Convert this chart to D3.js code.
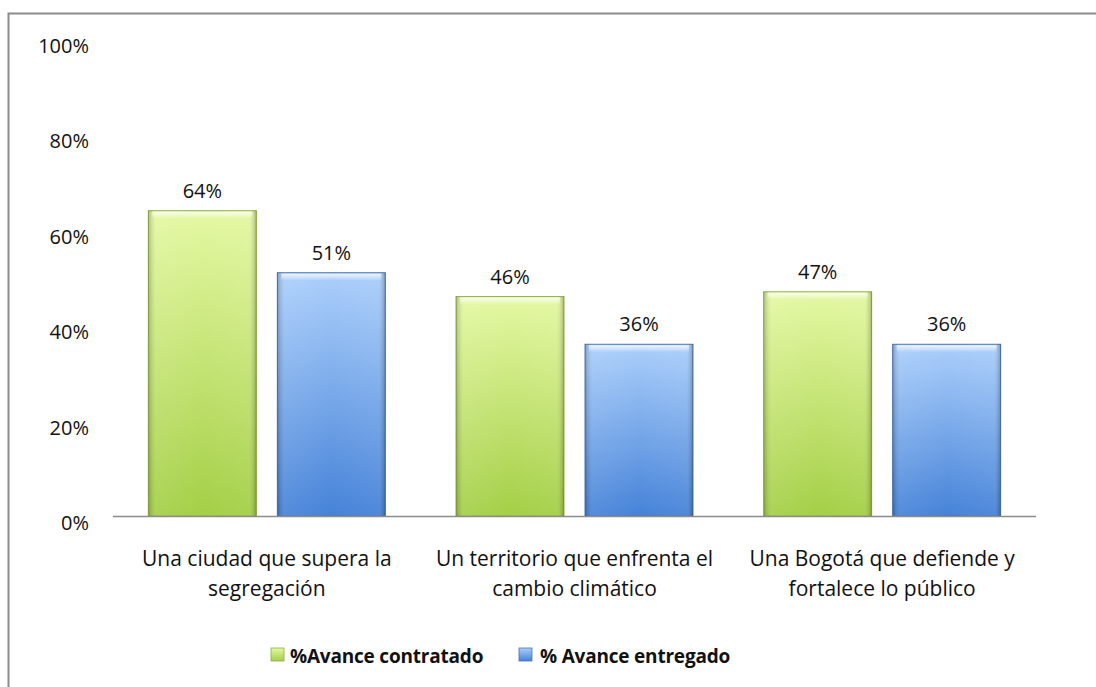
<html>
<head>
<script src="https://d3js.org/d3.v7.min.js" charset="utf-8"></script>
<style>
body { margin: 0; background: white; font-family: "Open Sans", "Noto Sans", sans-serif; }
</style>
</head>
<body>
<div id="canvas"></div>
<script>
// chart data
var categories = ["Una ciudad que supera la|segregación",
                  "Un territorio que enfrenta el|cambio climático",
                  "Una Bogotá que defiende y|fortalece lo público"];
var seriesNames = ["%Avance contratado", "% Avance entregado"];
var contratado = [64, 46, 47];
var entregado = [51, 36, 36];
var yTicks = [0, 20, 40, 60, 80, 100];

var W = 1096, H = 687;
var svg = d3.select("#canvas").append("svg").attr("width", W).attr("height", H);

// outer frame (cut off at right and bottom like the picture)
svg.append("rect").attr("x", 8.5).attr("y", 13.5).attr("width", W + 10).attr("height", H + 10)
	.attr("fill", "white").attr("stroke", "#8c8c8c").attr("stroke-width", 2);

var defs = svg.append("defs");
function grad(id, c1, c2) {
	var g = defs.append("linearGradient").attr("id", id).attr("x1", 0).attr("y1", 0).attr("x2", 0).attr("y2", 1);
	g.append("stop").attr("offset", "0%").attr("stop-color", c1);
	g.append("stop").attr("offset", "100%").attr("stop-color", c2);
}
grad("gGreen", "#e4f8a2", "#a4cf46");
grad("gBlue", "#abcffb", "#4582d8");
var side = defs.append("linearGradient").attr("id", "side").attr("x1", 0).attr("x2", 1).attr("y1", 0).attr("y2", 0);
side.append("stop").attr("offset", "0%").attr("stop-color", "#000").attr("stop-opacity", 0.22);
side.append("stop").attr("offset", "7%").attr("stop-color", "#fff").attr("stop-opacity", 0.08);
side.append("stop").attr("offset", "50%").attr("stop-color", "#fff").attr("stop-opacity", 0);
side.append("stop").attr("offset", "93%").attr("stop-color", "#fff").attr("stop-opacity", 0.05);
side.append("stop").attr("offset", "100%").attr("stop-color", "#000").attr("stop-opacity", 0.25);
var shine = defs.append("linearGradient").attr("id", "topShine").attr("x1", 0).attr("x2", 0).attr("y1", 0).attr("y2", 1);
shine.append("stop").attr("offset", "0%").attr("stop-color", "#fff").attr("stop-opacity", 0.8);
shine.append("stop").attr("offset", "100%").attr("stop-color", "#fff").attr("stop-opacity", 0);

var plotL = 113, plotR = 1036, plotT = 39, plotB = 516;

var x = d3.scaleBand().domain(d3.range(categories.length)).range([plotL, plotR]).paddingInner(0).paddingOuter(0);
var x1 = d3.scaleBand().domain([0, 1]).range([0, x.bandwidth()]).paddingInner(0.163).paddingOuter(0.274);
var y = d3.scaleLinear().domain([0, 100]).range([plotB, plotT]);

// y tick labels
svg.selectAll(".ytick").data(yTicks).enter().append("text")
	.attr("x", 89).attr("y", function(d){ return y(d) + 14; })
	.attr("text-anchor", "end").attr("font-size", 20).attr("fill", "#111")
	.text(function(d){ return d + "%"; });

var fills = ["url(#gGreen)", "url(#gBlue)"];
var strokes = ["#8fae45", "#4a74b0"];
var series = [contratado, entregado];

series.forEach(function(vals, s) {
	var g = svg.append("g");
	vals.forEach(function(v, i) {
		var bx = x(i) + x1(s), bw = x1.bandwidth(), by = y(v), bh = y(0) - y(v);
		g.append("rect").attr("x", bx).attr("y", by).attr("width", bw).attr("height", bh)
			.attr("fill", fills[s]).attr("stroke", strokes[s]).attr("stroke-width", 1);
		g.append("rect").attr("x", bx).attr("y", by).attr("width", bw).attr("height", bh)
			.attr("fill", "url(#side)");
		g.append("rect").attr("x", bx + 4).attr("y", by + 1).attr("width", bw - 8).attr("height", 7)
			.attr("fill", "url(#topShine)");
		svg.append("text").attr("x", bx + bw / 2).attr("y", by - 13)
			.attr("text-anchor", "middle").attr("font-size", 20).attr("fill", "#111")
			.text(v + "%");
	});
});

// x axis line
svg.append("line").attr("x1", plotL).attr("x2", plotR).attr("y1", plotB + 0.5).attr("y2", plotB + 0.5)
	.attr("stroke", "#8c8c8c").attr("stroke-width", 1.5);

// category labels
categories.forEach(function(c, i) {
	var t = svg.append("text").attr("text-anchor", "middle").attr("font-size", 21).attr("fill", "#111");
	c.split("|").forEach(function(line, k) {
		t.append("tspan").attr("x", x(i) + x.bandwidth() / 2).attr("y", 566 + k * 30).text(line);
	});
});

// legend
var legX = [271, 519], legText = [290, 540];
var legGrad = ["url(#gGreen)", "url(#gBlue)"];
seriesNames.forEach(function(n, i) {
	svg.append("rect").attr("x", legX[i]).attr("y", 648).attr("width", 13).attr("height", 13)
		.attr("fill", legGrad[i]).attr("stroke", strokes[i]).attr("stroke-width", 0.8);
	svg.append("text").attr("x", legText[i]).attr("y", 663).attr("font-size", 19).attr("font-weight", "bold")
		.attr("fill", "#111").attr("letter-spacing", -0.2).text(n);
});
</script>
</body>
</html>
